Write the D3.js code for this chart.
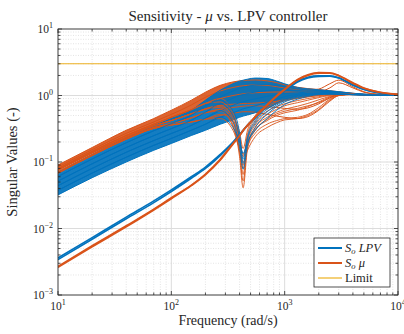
<!DOCTYPE html>
<html>
<head>
<meta charset="utf-8">
<script src="https://cdn.jsdelivr.net/npm/d3@7"></script>
<style>
body { margin: 0; background: #fff; }
svg { display: block; }
text { font-family: "Liberation Serif", "DejaVu Serif", serif; fill: #262626; }
</style>
</head>
<body>
<svg id="chart" width="404" height="334"></svg>
<script>
// frequency grid (rad/s) shared by every curve
const freqs = [10, 20, 40, 70, 100, 150, 200, 270, 350, 400, 430, 470, 550, 700, 850, 1000, 1300, 1600, 2000, 2500, 3000, 4000, 5000, 7000, 10000];

// S_o LPV : upper singular value band
const lpvMain = [
  [0.032, 0.058, 0.10, 0.15, 0.19, 0.25, 0.30, 0.37, 0.43, 0.47, 0.49, 0.51, 0.55, 0.64, 0.75, 0.86, 0.98, 1.04, 1.07, 1.07, 1.06, 1.04, 1.03, 1.01, 1.0],
  [0.0375, 0.068, 0.118, 0.178, 0.226, 0.30, 0.37, 0.47, 0.55, 0.60, 0.63, 0.655, 0.70, 0.79, 0.88, 0.96, 1.04, 1.08, 1.10, 1.09, 1.07, 1.05, 1.03, 1.01, 1.0],
  [0.044, 0.080, 0.140, 0.21, 0.268, 0.355, 0.455, 0.59, 0.71, 0.78, 0.80, 0.84, 0.89, 0.97, 1.03, 1.07, 1.10, 1.12, 1.13, 1.11, 1.09, 1.05, 1.03, 1.01, 1.0],
  [0.0516, 0.094, 0.165, 0.249, 0.318, 0.423, 0.56, 0.75, 0.91, 1.0, 1.03, 1.07, 1.13, 1.19, 1.20, 1.20, 1.17, 1.17, 1.16, 1.14, 1.11, 1.06, 1.04, 1.02, 1.0],
  [0.0605, 0.111, 0.195, 0.295, 0.378, 0.504, 0.69, 0.95, 1.17, 1.28, 1.33, 1.37, 1.44, 1.46, 1.41, 1.34, 1.25, 1.21, 1.19, 1.16, 1.13, 1.07, 1.04, 1.02, 1.0],
  [0.071, 0.13, 0.23, 0.35, 0.45, 0.60, 0.85, 1.2, 1.5, 1.64, 1.70, 1.76, 1.83, 1.80, 1.65, 1.50, 1.32, 1.26, 1.22, 1.18, 1.14, 1.08, 1.05, 1.02, 1.0]
];
// S_o LPV : curves dipping into the notch
const lpvNotch = [
  [0.044, 0.080, 0.140, 0.21, 0.268, 0.355, 0.455, 0.59, 0.40, 0.17, 0.078, 0.18, 0.33, 0.52, 0.68, 0.80, 0.93, 1.0, 1.05, 1.06, 1.05, 1.03, 1.02, 1.01, 1.0],
  [0.0516, 0.094, 0.165, 0.249, 0.318, 0.423, 0.56, 0.75, 0.50, 0.23, 0.11, 0.24, 0.42, 0.62, 0.77, 0.88, 0.98, 1.03, 1.06, 1.06, 1.05, 1.03, 1.02, 1.01, 1.0],
  [0.0375, 0.068, 0.118, 0.178, 0.226, 0.30, 0.37, 0.47, 0.33, 0.20, 0.135, 0.20, 0.30, 0.45, 0.60, 0.73, 0.88, 0.97, 1.03, 1.05, 1.05, 1.03, 1.02, 1.01, 1.0],
  [0.0605, 0.111, 0.195, 0.295, 0.378, 0.504, 0.69, 0.85, 0.58, 0.27, 0.095, 0.22, 0.38, 0.57, 0.72, 0.84, 0.95, 1.01, 1.05, 1.06, 1.05, 1.03, 1.02, 1.01, 1.0]
];
// S_o LPV : lower singular value
const lpvLow = [
  [0.0036, 0.0073, 0.0148, 0.026, 0.038, 0.060, 0.084, 0.13, 0.20, 0.26, 0.30, 0.36, 0.47, 0.72, 0.98, 1.20, 1.65, 1.88, 1.97, 1.97, 1.85, 1.45, 1.24, 1.09, 1.03],
  [0.0034, 0.0069, 0.014, 0.0245, 0.036, 0.057, 0.080, 0.125, 0.195, 0.255, 0.295, 0.355, 0.46, 0.70, 0.95, 1.17, 1.60, 1.84, 1.94, 1.95, 1.83, 1.43, 1.23, 1.08, 1.03]
];

// S_o mu : upper band
const muMain = [
  [0.068, 0.125, 0.22, 0.32, 0.36, 0.40, 0.44, 0.50, 0.54, 0.56, 0.57, 0.57, 0.56, 0.52, 0.49, 0.47, 0.45, 0.48, 0.60, 0.82, 1.0, 1.05, 1.03, 1.01, 1.0],
  [0.071, 0.13, 0.225, 0.33, 0.38, 0.46, 0.55, 0.62, 0.66, 0.68, 0.69, 0.70, 0.70, 0.68, 0.66, 0.64, 0.62, 0.65, 0.75, 0.92, 1.04, 1.06, 1.04, 1.01, 1.0],
  [0.075, 0.137, 0.235, 0.35, 0.42, 0.53, 0.63, 0.71, 0.74, 0.75, 0.76, 0.76, 0.77, 0.79, 0.82, 0.86, 0.93, 0.98, 1.03, 1.08, 1.10, 1.07, 1.04, 1.01, 1.0],
  [0.079, 0.144, 0.25, 0.37, 0.47, 0.61, 0.76, 0.90, 1.0, 1.04, 1.06, 1.08, 1.10, 1.12, 1.13, 1.13, 1.12, 1.12, 1.13, 1.30, 1.55, 1.30, 1.12, 1.03, 1.0],
  [0.084, 0.153, 0.27, 0.40, 0.52, 0.72, 0.94, 1.17, 1.32, 1.38, 1.40, 1.42, 1.44, 1.42, 1.36, 1.30, 1.24, 1.20, 1.25, 1.50, 1.70, 1.35, 1.14, 1.04, 1.0],
  [0.09, 0.165, 0.30, 0.45, 0.60, 0.85, 1.12, 1.42, 1.60, 1.66, 1.68, 1.70, 1.71, 1.66, 1.56, 1.45, 1.33, 1.27, 1.23, 1.18, 1.14, 1.08, 1.04, 1.01, 1.0]
];
// S_o mu : notch curves
const muNotch = [
  [0.071, 0.13, 0.225, 0.33, 0.38, 0.46, 0.55, 0.62, 0.36, 0.12, 0.041, 0.16, 0.30, 0.42, 0.50, 0.55, 0.60, 0.68, 0.80, 0.95, 1.02, 1.03, 1.02, 1.01, 1.0],
  [0.075, 0.137, 0.235, 0.35, 0.42, 0.53, 0.63, 0.71, 0.45, 0.17, 0.065, 0.20, 0.36, 0.52, 0.62, 0.70, 0.78, 0.85, 0.93, 1.0, 1.04, 1.04, 1.02, 1.01, 1.0],
  [0.068, 0.125, 0.22, 0.32, 0.36, 0.40, 0.44, 0.45, 0.30, 0.15, 0.09, 0.17, 0.27, 0.37, 0.42, 0.45, 0.47, 0.52, 0.66, 0.88, 1.0, 1.04, 1.03, 1.01, 1.0],
  [0.079, 0.144, 0.25, 0.37, 0.47, 0.61, 0.76, 0.90, 0.55, 0.24, 0.12, 0.26, 0.45, 0.65, 0.76, 0.83, 0.90, 0.95, 1.0, 1.04, 1.05, 1.04, 1.02, 1.01, 1.0],
  [0.075, 0.137, 0.235, 0.35, 0.42, 0.53, 0.62, 0.66, 0.40, 0.14, 0.052, 0.18, 0.33, 0.47, 0.56, 0.62, 0.69, 0.76, 0.86, 0.97, 1.03, 1.04, 1.02, 1.01, 1.0],
  [0.075, 0.137, 0.235, 0.35, 0.42, 0.53, 0.63, 0.68, 0.50, 0.20, 0.08, 0.22, 0.40, 0.58, 0.68, 0.75, 0.84, 0.90, 0.96, 1.02, 1.05, 1.04, 1.02, 1.01, 1.0],
  [0.071, 0.13, 0.225, 0.33, 0.38, 0.46, 0.55, 0.58, 0.34, 0.16, 0.10, 0.15, 0.24, 0.33, 0.39, 0.43, 0.45, 0.50, 0.62, 0.85, 1.0, 1.04, 1.03, 1.01, 1.0],
  [0.079, 0.144, 0.25, 0.37, 0.47, 0.61, 0.76, 0.80, 0.50, 0.28, 0.16, 0.30, 0.50, 0.70, 0.80, 0.86, 0.92, 0.96, 1.0, 1.03, 1.04, 1.03, 1.02, 1.01, 1.0],
  [0.068, 0.125, 0.22, 0.32, 0.36, 0.40, 0.44, 0.52, 0.42, 0.22, 0.13, 0.20, 0.31, 0.44, 0.53, 0.58, 0.64, 0.70, 0.78, 0.92, 1.01, 1.04, 1.02, 1.01, 1.0]
];
// S_o mu : lower singular value
const muLow = [
  [0.0027, 0.0055, 0.011, 0.0195, 0.029, 0.045, 0.066, 0.11, 0.19, 0.25, 0.30, 0.36, 0.48, 0.73, 1.0, 1.25, 1.75, 2.05, 2.22, 2.2, 2.0, 1.55, 1.3, 1.12, 1.04],
  [0.0026, 0.0053, 0.0106, 0.019, 0.028, 0.044, 0.064, 0.106, 0.185, 0.245, 0.295, 0.35, 0.47, 0.71, 0.97, 1.22, 1.70, 2.0, 2.16, 2.16, 1.98, 1.52, 1.28, 1.11, 1.04]
];

const limitValue = 3;
const xTickLabels = ["1", "2", "3", "4"];
const yTickLabels = ["\u22123", "\u22122", "\u22121", "0", "1"];

const colors = { lpv: "#0072BD", mu: "#D95319", limit: "#EDB120" };

const margin = { top: 29, right: 6, bottom: 39, left: 58 };
const width = 404, height = 334;

const svg = d3.select("#chart");

const x = d3.scaleLog().domain([10, 1e4]).range([margin.left, width - margin.right]);
const y = d3.scaleLog().domain([1e-3, 10]).range([height - margin.bottom, margin.top]);

const x0 = x.range()[0], x1 = x.range()[1];
const y0 = y.range()[0], y1 = y.range()[1];

svg.append("defs").append("clipPath").attr("id", "plotClip")
  .append("rect").attr("x", x0).attr("y", y1).attr("width", x1 - x0).attr("height", y0 - y1);

// grid
let grid = svg.append("g");
let xTicks = x.ticks();
let yTicks = y.ticks();
let isMajor = v => Math.abs(Math.log10(v) - Math.round(Math.log10(v))) < 1e-6;

xTicks.forEach(t => {
  grid.append("line")
    .attr("x1", x(t)).attr("x2", x(t)).attr("y1", y1).attr("y2", y0)
    .attr("stroke", isMajor(t) ? "#dcdcdc" : "#d2d2d2")
    .attr("stroke-width", isMajor(t) ? 1 : 0.6)
    .attr("stroke-dasharray", isMajor(t) ? null : "1,1.5");
});
yTicks.forEach(t => {
  grid.append("line")
    .attr("x1", x0).attr("x2", x1).attr("y1", y(t)).attr("y2", y(t))
    .attr("stroke", isMajor(t) ? "#dcdcdc" : "#d2d2d2")
    .attr("stroke-width", isMajor(t) ? 1 : 0.6)
    .attr("stroke-dasharray", isMajor(t) ? null : "1,1.5");
});

let plot = svg.append("g").attr("clip-path", "url(#plotClip)");

let line = d3.line()
  .x((d, i) => x(freqs[i]))
  .y(d => y(d))
  .curve(d3.curveMonotoneX);

let band = d3.area()
  .x((d, i) => x(freqs[i]))
  .y0(d => y(d[0]))
  .y1(d => y(d[1]))
  .curve(d3.curveMonotoneX);

// dense parts of both families
plot.append("path")
  .datum(freqs.map((f, i) => [muMain[2][i], muMain[5][i]]))
  .attr("d", band)
  .attr("fill", colors.mu)
  .attr("fill-opacity", 0.9);

plot.append("path")
  .datum(freqs.map((f, i) => [lpvMain[0][i], lpvMain[5][i]]))
  .attr("d", band)
  .attr("fill", colors.lpv)
  .attr("fill-opacity", 0.92);

function drawSet(set, color, w) {
  set.forEach(vals => {
    plot.append("path")
      .datum(vals)
      .attr("d", line)
      .attr("fill", "none")
      .attr("stroke", color)
      .attr("stroke-width", w);
  });
}

drawSet(muMain, colors.mu, 1);
drawSet(lpvMain, colors.lpv, 1);
drawSet(muNotch, colors.mu, 0.9);
drawSet(lpvNotch, colors.lpv, 0.9);
drawSet(lpvLow, colors.lpv, 1.6);
drawSet(muLow, colors.mu, 1.6);

// limit
plot.append("line")
  .attr("x1", x0).attr("x2", x1)
  .attr("y1", y(limitValue)).attr("y2", y(limitValue))
  .attr("stroke", colors.limit)
  .attr("stroke-width", 1.2);

// axes box and ticks
let axis = svg.append("g").attr("stroke", "#262626");
axis.append("rect")
  .attr("x", x0).attr("y", y1).attr("width", x1 - x0).attr("height", y0 - y1)
  .attr("fill", "none").attr("stroke-width", 0.8);

xTicks.forEach(t => {
  let len = isMajor(t) ? 4 : 2.5;
  axis.append("line").attr("x1", x(t)).attr("x2", x(t)).attr("y1", y0).attr("y2", y0 - len).attr("stroke-width", 0.8);
  axis.append("line").attr("x1", x(t)).attr("x2", x(t)).attr("y1", y1).attr("y2", y1 + len).attr("stroke-width", 0.8);
});
yTicks.forEach(t => {
  let len = isMajor(t) ? 4 : 2.5;
  axis.append("line").attr("x1", x0).attr("x2", x0 + len).attr("y1", y(t)).attr("y2", y(t)).attr("stroke-width", 0.8);
  axis.append("line").attr("x1", x1).attr("x2", x1 - len).attr("y1", y(t)).attr("y2", y(t)).attr("stroke-width", 0.8);
});

// tick labels
let xMajors = xTicks.filter(isMajor);
xMajors.forEach((t, i) => {
  let tx = svg.append("text")
    .attr("x", x(t)).attr("y", 310)
    .attr("text-anchor", "middle")
    .attr("font-size", 11.5);
  tx.append("tspan").text("10");
  tx.append("tspan").attr("dy", -5).attr("font-size", 8).text(xTickLabels[i]);
});

let yMajors = yTicks.filter(isMajor);
yMajors.forEach((t, i) => {
  let ty = svg.append("text")
    .attr("x", 53).attr("y", y(t) + 4)
    .attr("text-anchor", "end")
    .attr("font-size", 11.5);
  ty.append("tspan").text("10");
  ty.append("tspan").attr("dy", -5).attr("font-size", 8).text(yTickLabels[i]);
});

// title and axis labels
let title = svg.append("text")
  .attr("x", (x0 + x1) / 2).attr("y", 21)
  .attr("text-anchor", "middle")
  .attr("font-size", 15);
title.append("tspan").text("Sensitivity - ");
title.append("tspan").attr("font-style", "italic").text("\u03bc");
title.append("tspan").text(" vs. LPV controller");

svg.append("text")
  .attr("x", (x0 + x1) / 2).attr("y", 325)
  .attr("text-anchor", "middle")
  .attr("font-size", 14)
  .text("Frequency (rad/s)");

svg.append("text")
  .attr("transform", "translate(17," + ((y0 + y1) / 2) + ") rotate(-90)")
  .attr("text-anchor", "middle")
  .attr("font-size", 14.5)
  .text("Singular Values (-)");

// legend
let legend = svg.append("g");
legend.append("rect")
  .attr("x", 314).attr("y", 238).attr("width", 76).attr("height", 49)
  .attr("fill", "#fff").attr("stroke", "#262626").attr("stroke-width", 0.8);

let entries = [
  { color: colors.lpv, w: 2, label: "LPV" },
  { color: colors.mu, w: 2, label: "\u03bc" },
  { color: colors.limit, w: 1.2, label: null }
];
entries.forEach((e, i) => {
  let ly = 248 + i * 15;
  legend.append("line")
    .attr("x1", 318).attr("x2", 342).attr("y1", ly).attr("y2", ly)
    .attr("stroke", e.color).attr("stroke-width", e.w);
  let t = legend.append("text").attr("x", 345).attr("y", ly + 4).attr("font-size", 12.5);
  if (e.label) {
    t.append("tspan").attr("font-style", "italic").text("S");
    t.append("tspan").attr("font-style", "italic").attr("font-size", 8.5).attr("dy", 2).text("o");
    t.append("tspan").attr("font-style", "italic").attr("dy", -2).text(" " + e.label);
  } else {
    t.text("Limit");
  }
});
</script>
</body>
</html>
